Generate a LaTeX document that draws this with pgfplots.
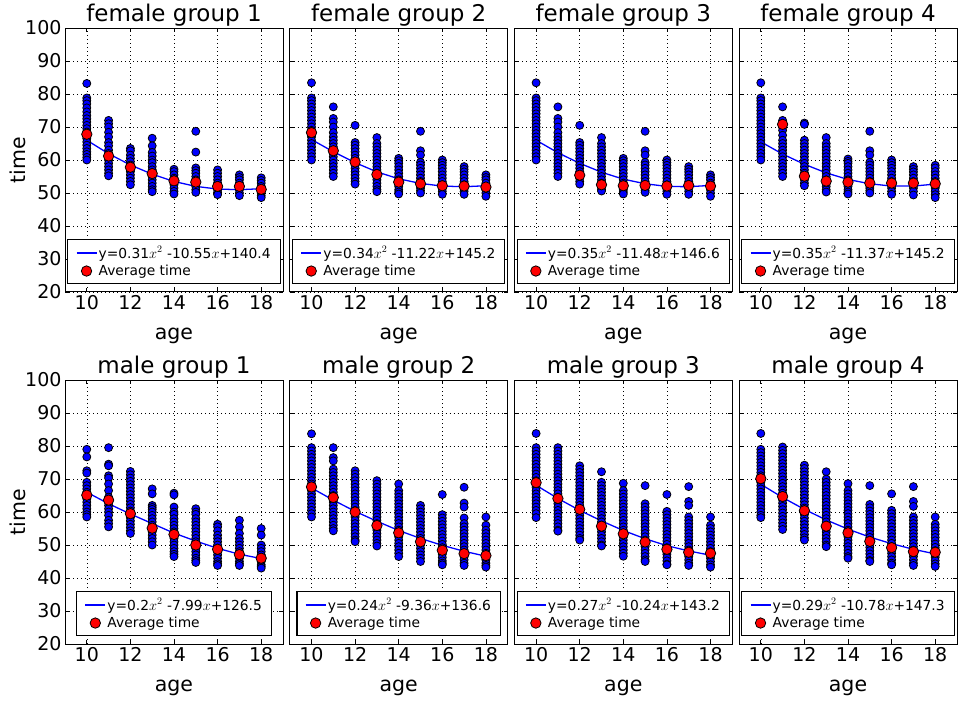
\documentclass[border=0pt]{standalone}
\usepackage{fontspec}
\setmainfont{DejaVu Sans}
\usepackage{pgfplots}
\pgfplotsset{compat=1.18}
\definecolor{mblue}{rgb}{0,0,1}
\definecolor{mred}{rgb}{1,0,0}
\pgfplotsset{
 panel/.style={scale only axis, width=218pt, height=264pt, anchor=south west,
  xmin=9, xmax=19, ymin=20, ymax=100,
  xtick={10,12,14,16,18}, ytick={20,30,40,50,60,70,80,90,100},
  grid=major, major grid style={black, line width=0.6pt, dash pattern=on 1pt off 3pt},
  axis line style={black, line width=1pt},
  tick align=inside, major tick length=4pt, tick style={black, line width=0.8pt},
  /pgf/number format/assume math mode=true,
  tick label style={font=\fontsize{19}{22}\selectfont},
  label style={font=\fontsize{20.5}{24}\selectfont},
  xlabel style={yshift=-11pt},
  ylabel style={yshift=-7pt},
  title style={font=\fontsize{23}{27}\selectfont, yshift=-8pt},
  xlabel={age},
  legend style={at={(0.5,0.03)}, anchor=south, draw=black, line width=1.1pt, fill=white,
   font=\fontsize{13.8}{16}\selectfont, inner xsep=8pt, inner ysep=5pt, row sep=2.5pt,
   nodes={inner sep=1.5pt},
   cells={anchor=west}, /tikz/every even column/.append style={column sep=3pt}},
 },
 blues/.style={only marks, mark=*, mark size=4pt, mark options={fill=mblue, draw=black, line width=0.8pt}, forget plot},
 fitline/.style={mblue, line width=1.3pt, mark=none, legend image code/.code={\draw[##1] (0pt,0pt) -- (20pt,0pt);}},
 avg/.style={only marks, mark=*, mark size=5.2pt, mark options={fill=mred, draw=black, line width=0.8pt},
  legend image code/.code={\draw[##1] plot coordinates {(10pt,0pt)};}},
}
\begin{document}
\begin{tikzpicture}
\path[use as bounding box] (0pt,0pt) rectangle (958pt,702pt);
% ---------------- female group 1
\begin{axis}[panel, at={(65pt,410pt)}, title={female group 1}, ylabel={time}]
\addplot[blues] coordinates {(10,83.2)(10,78.8)(10,78)(10,77)(10,75.8)(10,74.6)(10,73.5)(10,72.5)(10,71.5)(10,70.5)(10,69.5)(10,68.5)(10,67.5)(10,66.5)(10,65.5)(10,64.5)(10,63.5)(10,62.5)(10,61.7)(10,60.8)(10,60)
(11,72)(11,71)(11,70)(11,68.4)(11,67)(11,65.3)(11,64.3)(11,63)(11,62)(11,61)(11,60)(11,59)(11,58)(11,57)(11,56)(11,55.2)
(12,63.5)(12,62.8)(12,61.5)(12,60.5)(12,59.5)(12,58.5)(12,57.5)(12,56.5)(12,55.5)(12,54.5)(12,53.5)(12,52.5)
(13,66.6)(13,64.3)(13,62.3)(13,61.2)(13,60)(13,59.2)(13,58)(13,57)(13,56)(13,55)(13,54)(13,53)(13,52)(13,51)(13,50.4)
(14,57.2)(14,56.5)(14,55.5)(14,54.5)(14,53.5)(14,52.5)(14,51.5)(14,50.5)(14,49.7)
(15,68.7)(15,62.4)(15,57.6)(15,56.8)(15,56)(15,55)(15,54)(15,53)(15,52)(15,51)(15,50.2)
(16,57)(16,56)(16,55)(16,54)(16,53)(16,52)(16,51)(16,50.2)(16,49.5)
(17,55.5)(17,54.7)(17,54)(17,53)(17,52)(17,51)(17,50)(17,49.2)
(18,54.6)(18,53.8)(18,53)(18,52)(18,51)(18,50)(18,49.2)(18,48.6)};
\addplot[fitline] coordinates {(10,66.0)(11,61.9)(12,58.5)(13,55.7)(14,53.5)(15,52.0)(16,51.2)(17,51.0)(18,51.3)};
\addlegendentry{y=0.31$x^2$ -10.55$x$+140.4}
\addplot[avg] coordinates {(10,67.8)(11,61.2)(12,57.8)(13,55.9)(14,53.7)(15,53.3)(16,52.0)(17,52.0)(18,51.1)};
\addlegendentry{Average time}
\end{axis}
% ---------------- female group 2
\begin{axis}[panel, at={(289.7pt,410pt)}, title={female group 2}, yticklabels={}]
\addplot[blues] coordinates {(10,83.4)(10,78.8)(10,78)(10,77)(10,76)(10,75)(10,74)(10,73)(10,72)(10,71)(10,70)(10,69)(10,68)(10,67)(10,66)(10,65)(10,64)(10,63)(10,62)(10,61)(10,60)
(11,76.1)(11,72.6)(11,71.5)(11,70)(11,68.3)(11,67)(11,66)(11,65)(11,64)(11,63)(11,62)(11,61)(11,60)(11,59)(11,58)(11,57)(11,56)(11,55)
(12,70.5)(12,65.3)(12,64.5)(12,63.5)(12,62.5)(12,61.5)(12,60.5)(12,59.5)(12,58.5)(12,57.5)(12,56.5)(12,55.5)(12,54.5)(12,53.5)(12,52.7)
(13,66.8)(13,65)(13,64)(13,63)(13,62)(13,61)(13,60)(13,59)(13,58)(13,57)(13,56)(13,55)(13,54)(13,53)(13,52)(13,51)(13,50.4)
(14,60.5)(14,59.8)(14,59)(14,58)(14,57)(14,56)(14,55)(14,54)(14,53)(14,52)(14,51)(14,50.3)(14,49.7)
(15,68.7)(15,62.8)(15,61.5)(15,59.3)(15,58.5)(15,57.5)(15,56.5)(15,55.5)(15,54.5)(15,53.5)(15,52.5)(15,51.5)(15,50.7)(15,50)
(16,60)(16,59.2)(16,58.4)(16,57.5)(16,56.5)(16,55.5)(16,54.5)(16,53.5)(16,52.5)(16,51.5)(16,50.5)(16,49.6)
(17,58)(17,57.2)(17,56.4)(17,55.5)(17,54.5)(17,53.5)(17,52.5)(17,51.5)(17,50.5)(17,49.6)
(18,55.5)(18,54.7)(18,54)(18,53)(18,52)(18,51)(18,50)(18,49)};
\addplot[fitline] coordinates {(10,66.2)(11,62.5)(12,59.2)(13,56.4)(14,54.3)(15,52.9)(16,52.1)(17,51.9)(18,52.2)};
\addlegendentry{y=0.34$x^2$ -11.22$x$+145.2}
\addplot[avg] coordinates {(10,68.3)(11,62.8)(12,59.4)(13,55.6)(14,53.3)(15,52.8)(16,52.2)(17,52.1)(18,51.8)};
\addlegendentry{Average time}
\end{axis}
% ---------------- female group 3
\begin{axis}[panel, at={(514.3pt,410pt)}, title={female group 3}, yticklabels={}]
\addplot[blues] coordinates {(10,83.4)(10,78.8)(10,78)(10,77)(10,76)(10,75)(10,74)(10,73)(10,72)(10,71)(10,70)(10,69)(10,68)(10,67)(10,66)(10,65)(10,64)(10,63)(10,62)(10,61)(10,60)
(11,76.1)(11,72.6)(11,71.5)(11,70)(11,68.3)(11,67)(11,66)(11,65)(11,64)(11,63)(11,62)(11,61)(11,60)(11,59)(11,58)(11,57)(11,56)(11,55)
(12,70.5)(12,65.3)(12,64.5)(12,63.5)(12,62.5)(12,61.5)(12,60.5)(12,59.5)(12,58.5)(12,57.5)(12,56.5)(12,55.5)(12,54.5)(12,53.5)(12,52.7)
(13,66.8)(13,65)(13,64)(13,63)(13,62)(13,61)(13,60)(13,59)(13,58)(13,57)(13,56)(13,55)(13,54)(13,53)(13,52)(13,51)(13,50.6)
(14,60.5)(14,59.8)(14,59)(14,58)(14,57)(14,56)(14,55)(14,54)(14,53)(14,52)(14,51)(14,50.3)(14,49.7)
(15,68.7)(15,62.8)(15,61.5)(15,59.3)(15,58.5)(15,57.5)(15,56.5)(15,55.5)(15,54.5)(15,53.5)(15,52.5)(15,51.5)(15,50.7)(15,50.2)
(16,60)(16,59.2)(16,58.4)(16,57.5)(16,56.5)(16,55.5)(16,54.5)(16,53.5)(16,52.5)(16,51.5)(16,50.5)(16,49.6)
(17,58)(17,57.2)(17,56.4)(17,55.5)(17,54.5)(17,53.5)(17,52.5)(17,51.5)(17,50.5)(17,49.6)
(18,55.5)(18,54.7)(18,54)(18,53)(18,52)(18,51)(18,50)(18,49)};
\addplot[fitline] coordinates {(10,66.0)(11,62.2)(12,59.0)(13,56.3)(14,54.2)(15,52.8)(16,52.0)(17,51.9)(18,52.3)};
\addlegendentry{y=0.35$x^2$ -11.48$x$+146.6}
\addplot[avg] coordinates {(12,55.4)(13,52.5)(14,52.2)(15,52.3)(16,52.1)(17,52.3)(18,52.1)};
\addlegendentry{Average time}
\end{axis}
% ---------------- female group 4
\begin{axis}[panel, at={(739pt,410pt)}, title={female group 4}, yticklabels={}]
\addplot[blues] coordinates {(10,83.4)(10,78.8)(10,78)(10,77)(10,76)(10,75)(10,74)(10,73)(10,72)(10,71)(10,70)(10,69)(10,68)(10,67)(10,66)(10,65)(10,64)(10,63)(10,62)(10,61)(10,60)
(11,76.1)(11,72)(11,71)(11,70)(11,69)(11,67.5)(11,66)(11,65)(11,64)(11,63)(11,62)(11,61)(11,60)(11,59)(11,58)(11,57)(11,56)(11,55)
(12,71.2)(12,70.8)(12,66)(12,65)(12,64)(12,63)(12,62)(12,61)(12,60)(12,59)(12,58)(12,57)(12,56)(12,55)(12,54)(12,53)(12,52.2)
(13,66.8)(13,65)(13,64)(13,63)(13,62)(13,61)(13,60)(13,59)(13,58)(13,57)(13,56)(13,55)(13,54)(13,53)(13,52)(13,51)(13,50.3)
(14,60.3)(14,59.6)(14,59)(14,58)(14,57)(14,56)(14,55)(14,54)(14,53)(14,52)(14,51)(14,50.3)(14,49.7)
(15,68.7)(15,62.8)(15,61.5)(15,59.3)(15,58.5)(15,57.5)(15,56.5)(15,55.5)(15,54.5)(15,53.5)(15,52.5)(15,51.5)(15,50.7)(15,50)
(16,60)(16,59.2)(16,58.4)(16,57.5)(16,56.5)(16,55.5)(16,54.5)(16,53.5)(16,52.5)(16,51.5)(16,50.5)(16,49.6)
(17,58)(17,57.2)(17,56.4)(17,55.5)(17,54.5)(17,53.5)(17,52.5)(17,51.5)(17,50.5)(17,49.4)
(18,58.4)(18,57.6)(18,56.5)(18,55.5)(18,54.5)(18,53.5)(18,52.5)(18,51.5)(18,50.5)(18,49.5)(18,48.6)};
\addplot[fitline] coordinates {(10,65.5)(11,61.8)(12,58.7)(13,56.1)(14,54.1)(15,52.8)(16,52.1)(17,52.1)(18,52.7)};
\addlegendentry{y=0.35$x^2$ -11.37$x$+145.2}
\addplot[avg] coordinates {(11,70.8)(12,55.1)(13,53.6)(14,53.3)(15,53.0)(16,53.0)(17,53.0)(18,52.8)};
\addlegendentry{Average time}
\end{axis}
% ---------------- male group 1
\begin{axis}[panel, at={(65pt,58pt)}, title={male group 1}, ylabel={time}]
\addplot[blues] coordinates {(10,79)(10,76.7)(10,72.5)(10,71.8)(10,69)(10,68)(10,67)(10,66)(10,65)(10,64)(10,63)(10,62)(10,61)(10,60)(10,59.2)(10,58.5)
(11,79.5)(11,74.5)(11,74)(11,71)(11,70.3)(11,68.5)(11,66.5)(11,64.5)(11,63)(11,62)(11,61)(11,60)(11,59)(11,57.5)(11,56.5)(11,55.5)
(12,72.3)(12,71.3)(12,70.3)(12,69.3)(12,68.3)(12,67.3)(12,66.3)(12,65.3)(12,64.3)(12,63.3)(12,62.3)(12,61.3)(12,60.3)(12,59.3)(12,58.3)(12,57.3)(12,56.3)(12,55.3)(12,54.3)(12,53.5)
(13,67)(13,65.5)(13,62)(13,61.4)(13,60.8)(13,60)(13,59)(13,58)(13,57)(13,56)(13,55)(13,54)(13,53)(13,52)(13,51)(13,50)
(14,65.7)(14,65.2)(14,61.5)(14,60)(14,59.3)(14,58)(14,57)(14,56)(14,55)(14,54)(14,53)(14,52)(14,51)(14,50)(14,49)(14,48)(14,47.2)(14,46.5)
(15,61)(15,60)(15,59.3)(15,58)(15,57)(15,56)(15,55)(15,54)(15,53)(15,52)(15,51)(15,50)(15,49)(15,48)(15,47)(15,46)(15,45.3)(15,44.7)
(16,56.3)(16,55.5)(16,54.3)(16,53)(16,52)(16,51)(16,50)(16,49)(16,48)(16,47)(16,46)(16,45)(16,44.3)(16,43.8)
(17,57.5)(17,55.5)(17,53.5)(17,52)(17,51)(17,50)(17,49)(17,48)(17,47)(17,46)(17,45)(17,44.3)(17,43.8)
(18,55)(18,53)(18,50)(18,49)(18,48)(18,47)(18,46)(18,45)(18,44)(18,43.5)(18,43)};
\addplot[fitline] coordinates {(10,66.0)(11,62.5)(12,59.4)(13,56.5)(14,53.6)(15,51.2)(16,49.0)(17,47.2)(18,45.9)};
\addlegendentry{y=0.2$x^2$ -7.99$x$+126.5}
\addplot[avg] coordinates {(10,65.1)(11,63.6)(12,59.5)(13,55.1)(14,53.2)(15,50.0)(16,48.7)(17,47.1)(18,46.0)};
\addlegendentry{Average time}
\end{axis}
% ---------------- male group 2
\begin{axis}[panel, at={(289.7pt,58pt)}, title={male group 2}, yticklabels={}]
\addplot[blues] coordinates {(10,83.7)(10,79.5)(10,78.5)(10,77.5)(10,76.5)(10,75.5)(10,74.5)(10,73.5)(10,72.5)(10,71.5)(10,70.5)(10,69.5)(10,68.5)(10,67.5)(10,66.5)(10,65.5)(10,64.5)(10,63.5)(10,62.5)(10,61.5)(10,60.5)(10,59.5)(10,58.5)
(11,79.5)(11,76.5)(11,75.5)(11,73)(11,72)(11,71)(11,70)(11,69)(11,68)(11,67)(11,66)(11,65)(11,64)(11,63)(11,62)(11,61)(11,60)(11,59)(11,58)(11,57)(11,56)(11,55)(11,54.3)
(12,72.5)(12,71.5)(12,70.5)(12,69.5)(12,68.5)(12,67.5)(12,66.5)(12,65.5)(12,64.5)(12,63.5)(12,62.5)(12,61.5)(12,60.5)(12,59.5)(12,58.5)(12,57.5)(12,56.5)(12,55.5)(12,54.5)(12,53.5)(12,52.5)(12,51.5)(12,51)
(13,69.5)(13,68.5)(13,67.5)(13,66.5)(13,65.5)(13,64.5)(13,63.5)(13,62.5)(13,61.5)(13,60.5)(13,59.5)(13,58.5)(13,57.5)(13,56.5)(13,55.5)(13,54.5)(13,53.5)(13,52.5)(13,51.5)(13,50.5)(13,49.7)
(14,68.5)(14,66.5)(14,65.5)(14,64.5)(14,63.5)(14,62.5)(14,61.5)(14,60.5)(14,59.5)(14,58.5)(14,57.5)(14,56.5)(14,55.5)(14,54.5)(14,53.5)(14,52.5)(14,51.5)(14,50.5)(14,49.5)(14,48.5)(14,47.5)(14,46.5)
(15,62)(15,61)(15,60)(15,59)(15,58)(15,57)(15,56)(15,55)(15,54)(15,53)(15,52)(15,51)(15,50)(15,49)(15,48)(15,47)(15,46)(15,45)
(16,65.3)(16,59.2)(16,58.2)(16,57.2)(16,56.2)(16,55.2)(16,54.2)(16,53.2)(16,52.2)(16,51.2)(16,50.2)(16,49.2)(16,48.2)(16,47.2)(16,46.2)(16,45.2)(16,44.5)(16,44)
(17,67.5)(17,62.7)(17,61.5)(17,58.2)(17,56.5)(17,55.5)(17,54.5)(17,53.5)(17,52.5)(17,51.5)(17,50.5)(17,49.5)(17,48.5)(17,47.5)(17,46.5)(17,45.5)(17,44.5)(17,43.8)
(18,58.5)(18,56)(18,54.5)(18,53.5)(18,52.5)(18,51.5)(18,50.5)(18,49.5)(18,48.5)(18,47.5)(18,46.5)(18,45.5)(18,44.5)(18,43.8)(18,43.3)};
\addplot[fitline] coordinates {(10,67.3)(11,63.6)(12,60.2)(13,57.2)(14,54.4)(15,52.0)(16,49.9)(17,48.1)(18,46.6)};
\addlegendentry{y=0.24$x^2$ -9.36$x$+136.6}
\addplot[avg] coordinates {(10,67.6)(11,64.4)(12,60.0)(13,55.9)(14,53.7)(15,51.0)(16,48.4)(17,47.4)(18,46.8)};
\addlegendentry{Average time}
\end{axis}
% ---------------- male group 3
\begin{axis}[panel, at={(514.3pt,58pt)}, title={male group 3}, yticklabels={}]
\addplot[blues] coordinates {(10,83.8)(10,79.5)(10,78.5)(10,77.5)(10,76.5)(10,75.5)(10,74.5)(10,73.5)(10,72.5)(10,71.5)(10,70.5)(10,69.5)(10,68.5)(10,67.5)(10,66.5)(10,65.5)(10,64.5)(10,63.5)(10,62.5)(10,61.5)(10,60.5)(10,59.5)(10,58.3)
(11,79.5)(11,78.5)(11,77.5)(11,76.5)(11,75.5)(11,74.5)(11,73.5)(11,72.5)(11,71.5)(11,70.5)(11,69.5)(11,68.5)(11,67.5)(11,66.5)(11,65.5)(11,64.5)(11,63.5)(11,62.5)(11,61.5)(11,60.5)(11,59.5)(11,58.5)(11,57.5)(11,56.5)(11,55.5)(11,54.5)(11,54.2)
(12,74)(12,73)(12,72)(12,71)(12,70)(12,69)(12,68)(12,67)(12,66)(12,65)(12,64)(12,63)(12,62)(12,61)(12,60)(12,59)(12,58)(12,57)(12,56)(12,55)(12,54)(12,53)(12,52)(12,51.5)
(13,72.2)(13,69)(13,68)(13,67)(13,66)(13,65)(13,64)(13,63)(13,62)(13,61)(13,60)(13,59)(13,58)(13,57)(13,56)(13,55)(13,54)(13,53)(13,52)(13,51)(13,50)(13,49.7)
(14,68.7)(14,66.5)(14,65.5)(14,64.5)(14,63.5)(14,62.5)(14,61.5)(14,60.5)(14,59.5)(14,58.5)(14,57.5)(14,56.5)(14,55.5)(14,54.5)(14,53.5)(14,52.5)(14,51.5)(14,50.5)(14,49.5)(14,48.5)(14,47.5)(14,46.6)
(15,68)(15,62.5)(15,61.5)(15,60.5)(15,59.5)(15,58.5)(15,57.5)(15,56.5)(15,55.5)(15,54.5)(15,53.5)(15,52.5)(15,51.5)(15,50.5)(15,49.5)(15,48.5)(15,47.5)(15,46.5)(15,45.5)(15,45)
(16,65.3)(16,60.2)(16,59.2)(16,58.2)(16,57.2)(16,56.2)(16,55.2)(16,54.2)(16,53.2)(16,52.2)(16,51.2)(16,50.2)(16,49.2)(16,48.2)(16,47.2)(16,46.2)(16,45.2)(16,44.2)(16,44)
(17,67.7)(17,63.2)(17,62)(17,58.5)(17,57.5)(17,56.5)(17,55.5)(17,54.5)(17,53.5)(17,52.5)(17,51.5)(17,50.5)(17,49.5)(17,48.5)(17,47.5)(17,46.5)(17,45.5)(17,44.5)(17,43.8)
(18,58.5)(18,56)(18,55)(18,54)(18,53)(18,52)(18,51)(18,50)(18,49)(18,48)(18,47)(18,46)(18,45)(18,44)(18,43.3)};
\addplot[fitline] coordinates {(10,68.1)(11,64.1)(12,60.5)(13,57.3)(14,54.4)(15,51.9)(16,49.8)(17,48.2)(18,46.9)};
\addlegendentry{y=0.27$x^2$ -10.24$x$+143.2}
\addplot[avg] coordinates {(10,68.9)(11,64.1)(12,60.8)(13,55.7)(14,53.4)(15,50.9)(16,48.7)(17,47.8)(18,47.5)};
\addlegendentry{Average time}
\end{axis}
% ---------------- male group 4
\begin{axis}[panel, at={(739pt,58pt)}, title={male group 4}, yticklabels={}]
\addplot[blues] coordinates {(10,83.8)(10,79)(10,78)(10,77)(10,76)(10,75)(10,74)(10,73)(10,72)(10,71)(10,70)(10,69)(10,68)(10,67)(10,66)(10,65)(10,64)(10,63)(10,62)(10,61)(10,60)(10,59)(10,58.3)
(11,79.7)(11,78.7)(11,77.7)(11,76.7)(11,75.7)(11,74.7)(11,73.7)(11,72.7)(11,71.7)(11,70.7)(11,69.7)(11,68.7)(11,67.7)(11,66.7)(11,65.7)(11,64.7)(11,63.7)(11,62.7)(11,61.7)(11,60.7)(11,59.7)(11,58.7)(11,57.7)(11,56.7)(11,55.7)(11,54.7)
(12,74.2)(12,73.2)(12,72.2)(12,71.2)(12,70.2)(12,69.2)(12,68.2)(12,67.2)(12,66.2)(12,65.2)(12,64.2)(12,63.2)(12,62.2)(12,61.2)(12,60.2)(12,59.2)(12,58.2)(12,57.2)(12,56.2)(12,55.2)(12,54.2)(12,53.2)(12,52.2)(12,51.5)
(13,72.2)(13,70)(13,69)(13,68)(13,67)(13,66)(13,65)(13,64)(13,63)(13,62)(13,61)(13,60)(13,59)(13,58)(13,57)(13,56)(13,55)(13,54)(13,53)(13,52)(13,51)(13,50)(13,49.5)
(14,68.6)(14,66.5)(14,65.5)(14,64.5)(14,63.5)(14,62.5)(14,61.5)(14,60.5)(14,59.5)(14,58.5)(14,57.5)(14,56.5)(14,55.5)(14,54.5)(14,53.5)(14,52.5)(14,51.5)(14,50.5)(14,49.5)(14,48.5)(14,47.5)(14,46.5)(14,46)
(15,68)(15,62.3)(15,61.3)(15,60.3)(15,59.3)(15,58.3)(15,57.3)(15,56.3)(15,55.3)(15,54.3)(15,53.3)(15,52.3)(15,51.3)(15,50.3)(15,49.3)(15,48.3)(15,47.3)(15,46.3)(15,45.3)(15,45)
(16,65.5)(16,60.5)(16,59.5)(16,58.5)(16,57.5)(16,56.5)(16,55.5)(16,54.5)(16,53.5)(16,52.5)(16,51.5)(16,50.5)(16,49.5)(16,48.5)(16,47.5)(16,46.5)(16,45.5)(16,44.5)(16,44)
(17,67.7)(17,63.2)(17,61.7)(17,58.5)(17,57.5)(17,56.5)(17,55.5)(17,54.5)(17,53.5)(17,52.5)(17,51.5)(17,50.5)(17,49.5)(17,48.5)(17,47.5)(17,46.5)(17,45.5)(17,44.5)(17,43.8)
(18,58.5)(18,56.3)(18,55.3)(18,54.3)(18,53.3)(18,52.3)(18,51.3)(18,50.3)(18,49.3)(18,48.3)(18,47.3)(18,46.3)(18,45.3)(18,44.3)(18,43.5)};
\addplot[fitline] coordinates {(10,68.4)(11,64.4)(12,60.8)(13,57.6)(14,54.8)(15,52.4)(16,50.4)(17,48.7)(18,47.3)};
\addlegendentry{y=0.29$x^2$ -10.78$x$+147.3}
\addplot[avg] coordinates {(10,70.1)(11,64.7)(12,60.4)(13,55.7)(14,53.7)(15,51.1)(16,49.2)(17,48.0)(18,47.8)};
\addlegendentry{Average time}
\end{axis}
\end{tikzpicture}
\end{document}
